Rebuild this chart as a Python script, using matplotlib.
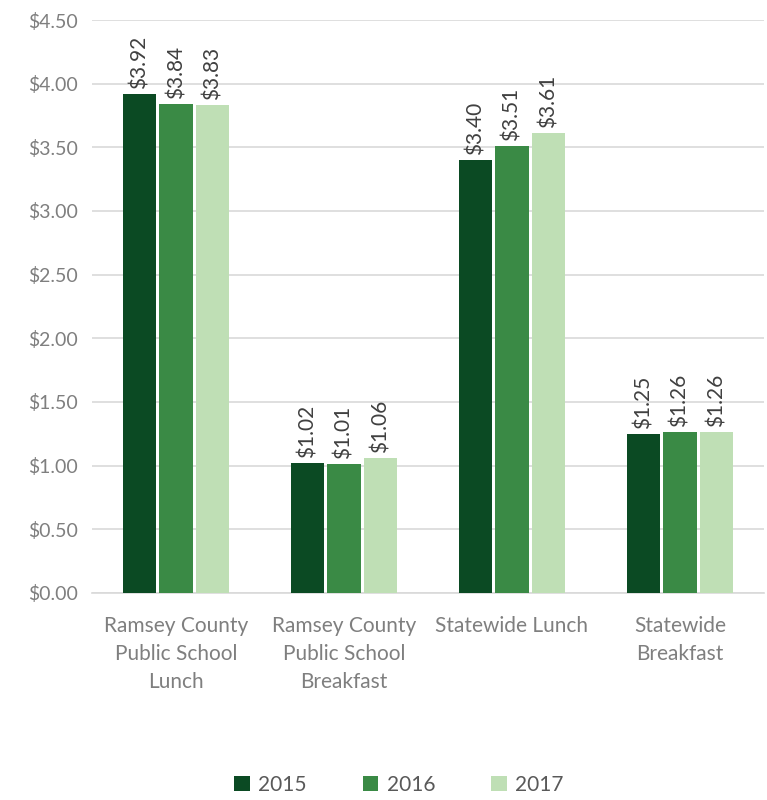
import matplotlib
matplotlib.use("Agg")
import matplotlib.pyplot as plt
import numpy as np

plt.rcParams['font.family'] = ['Lato', 'DejaVu Sans']

categories = ["Ramsey County\nPublic School\nLunch",
              "Ramsey County\nPublic School\nBreakfast",
              "Statewide Lunch",
              "Statewide\nBreakfast"]
years = ["2015", "2016", "2017"]
values = {
    "2015": [3.92, 1.02, 3.40, 1.25],
    "2016": [3.84, 1.01, 3.51, 1.26],
    "2017": [3.83, 1.06, 3.61, 1.26],
}
colors = ["#0b4a23", "#3a8a45", "#bfdfb5"]
yticks = np.arange(0, 4.51, 0.5)

fig = plt.figure(figsize=(7.67, 8.0), dpi=100)
ax = fig.add_axes([0.12, 0.259, 0.876, 0.716])

x = np.arange(len(categories))
bw = 0.2
gap = 0.017
for i, (yr, c) in enumerate(zip(years, colors)):
    offs = (i - 1) * (bw + gap)
    bars = ax.bar(x + offs, values[yr], width=bw, color=c, label=yr, zorder=3)
    for b, v in zip(bars, values[yr]):
        ax.text(b.get_x() + b.get_width() / 2, v + 0.04, f"${v:.2f}",
                rotation=90, ha="center", va="bottom", fontsize=15,
                color="#404040")

ax.set_xlim(-0.5, len(categories) - 0.5)
ax.set_ylim(0, 4.5)
ax.set_yticks(yticks)
ax.set_yticklabels([f"${t:.2f}" for t in yticks], fontsize=14, color="#7f7f7f")
ax.set_xticks(x)
ax.set_xticklabels(categories, fontsize=15, color="#7f7f7f", linespacing=1.5)
ax.tick_params(axis="both", length=0)
ax.tick_params(axis="x", pad=17)
ax.tick_params(axis="y", pad=10)
ax.yaxis.grid(True, color="#d9d9d9", linewidth=1.2, zorder=0)
for s in ["top", "right", "left"]:
    ax.spines[s].set_visible(False)
ax.spines["bottom"].set_color("#d9d9d9")
ax.spines["bottom"].set_linewidth(1.2)

fig.legend(loc="center", bbox_to_anchor=(0.52, 0.019), ncol=3, frameon=False,
           fontsize=15, labelcolor="#595959", handlelength=0.75, handleheight=0.75,
           columnspacing=2.7, handletextpad=0.4)

fig.savefig("out.png", dpi=100)
